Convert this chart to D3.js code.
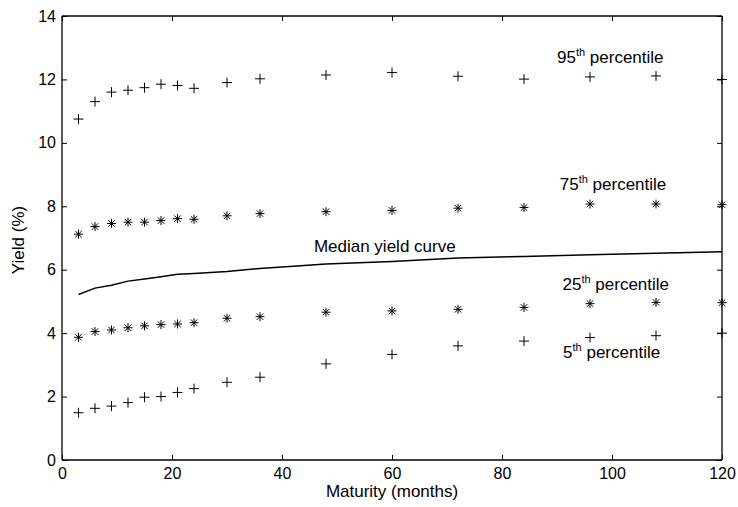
<!DOCTYPE html>
<html>
<head>
<meta charset="utf-8">
<script src="https://cdn.jsdelivr.net/npm/d3@7"></script>
<style>
  html, body { margin: 0; padding: 0; background: #fff; }
  svg { display: block; font-family: "Liberation Sans", Arial, Helvetica, sans-serif; }
</style>
</head>
<body>
<svg id="chart" width="738" height="507"></svg>
<script>
const maturities = [3, 6, 9, 12, 15, 18, 21, 24, 30, 36, 48, 60, 72, 84, 96, 108, 120];
const p95 = [10.75, 11.30, 11.60, 11.66, 11.74, 11.85, 11.81, 11.72, 11.90, 12.02, 12.14, 12.22, 12.10, 12.01, 12.08, 12.11, 12.00];
const p75 = [7.12, 7.36, 7.46, 7.50, 7.50, 7.55, 7.61, 7.59, 7.70, 7.77, 7.83, 7.87, 7.94, 7.96, 8.07, 8.07, 8.05];
const median = [5.22, 5.42, 5.51, 5.64, 5.71, 5.78, 5.86, 5.88, 5.94, 6.04, 6.18, 6.26, 6.37, 6.42, 6.47, 6.52, 6.57];
const p25 = [3.87, 4.05, 4.10, 4.17, 4.23, 4.27, 4.29, 4.33, 4.47, 4.52, 4.66, 4.70, 4.75, 4.81, 4.93, 4.97, 4.96];
const p5 = [1.49, 1.63, 1.70, 1.81, 1.98, 2.00, 2.13, 2.25, 2.45, 2.61, 3.03, 3.33, 3.60, 3.75, 3.86, 3.92, 4.00];
const xTicks = [0, 20, 40, 60, 80, 100, 120];
const yTicks = [0, 2, 4, 6, 8, 10, 12, 14];
const labels = [
  { num: "95", x: 90.0, y: 12.52 },
  { num: "75", x: 90.5, y: 8.51 },
  { num: "25", x: 91.0, y: 5.36 },
  { num: "5",  x: 91.1, y: 3.22 }
];
const medianLabel = { text: "Median yield curve", x: 45.8, y: 6.56 };

const svg = d3.select("#chart");
const m = { left: 62, right: 722, top: 16, bottom: 460 };
const x = d3.scaleLinear().domain([0, 120]).range([m.left, m.right]);
const y = d3.scaleLinear().domain([0, 14]).range([m.bottom, m.top]);

const tickLen = 5;
const tickFont = 16;
const labFont = 17;
const gx = svg.append("g").attr("transform", `translate(0,${m.bottom})`)
  .call(d3.axisBottom(x).tickValues(xTicks).tickSize(-tickLen).tickPadding(8).tickFormat(d3.format("d")));
const gxTop = svg.append("g").attr("transform", `translate(0,${m.top})`)
  .call(d3.axisTop(x).tickValues(xTicks).tickSize(-tickLen).tickFormat(""));
const gy = svg.append("g").attr("transform", `translate(${m.left},0)`)
  .call(d3.axisLeft(y).tickValues(yTicks).tickSize(-tickLen).tickPadding(6).tickFormat(d3.format("d")));
const gyR = svg.append("g").attr("transform", `translate(${m.right},0)`)
  .call(d3.axisRight(y).tickValues(yTicks).tickSize(-tickLen).tickFormat(""));
[gx, gxTop, gy, gyR].forEach(g => {
  g.selectAll(".domain").attr("stroke", "#000").attr("stroke-width", 1.3);
  g.selectAll(".tick line").attr("stroke", "#000").attr("stroke-width", 1);
  g.selectAll("text").attr("fill", "#000").attr("font-size", tickFont)
    .attr("font-family", '"Liberation Sans", Arial, sans-serif');
});
gx.selectAll(".domain").attr("d", `M${m.left},0H${m.right}`);
gxTop.selectAll(".domain").attr("d", `M${m.left},0H${m.right}`);
gy.selectAll(".domain").attr("d", `M0,${m.bottom}V${m.top}`);
gyR.selectAll(".domain").attr("d", `M0,${m.bottom}V${m.top}`);
gx.selectAll("text").attr("dy", "0.71em").attr("y", 8);

svg.append("text").attr("x", (m.left + m.right) / 2).attr("y", 497)
  .attr("text-anchor", "middle").attr("font-size", labFont).text("Maturity (months)");
svg.append("text").attr("transform", `translate(24,${(m.top + m.bottom) / 2 + 2}) rotate(-90)`)
  .attr("text-anchor", "middle").attr("font-size", labFont).text("Yield (%)");

svg.append("path")
  .datum(maturities.map((mm, i) => [mm, median[i]]))
  .attr("fill", "none").attr("stroke", "#000").attr("stroke-width", 1.5)
  .attr("d", d3.line().x(d => x(d[0])).y(d => y(d[1])));

const s = 5;
function plus(g, data) {
  g.selectAll(null).data(data).enter().append("path")
    .attr("d", d => {
      const cx = x(d[0]), cy = y(d[1]);
      return `M${cx - s},${cy}H${cx + s}M${cx},${cy - s}V${cy + s}`;
    })
    .attr("stroke", "#000").attr("stroke-width", 1).attr("fill", "none");
}
function star(g, data) {
  g.selectAll(null).data(data).enter().append("path")
    .attr("d", d => {
      const cx = x(d[0]), cy = y(d[1]);
      const r = s * 0.9, a = r * 0.72;
      return `M${cx - r},${cy}H${cx + r}M${cx},${cy - r}V${cy + r}` +
        `M${cx - a},${cy - a}L${cx + a},${cy + a}M${cx - a},${cy + a}L${cx + a},${cy - a}`;
    })
    .attr("stroke", "#000").attr("stroke-width", 1).attr("fill", "none");
}
const mg = svg.append("g");
plus(mg, maturities.map((mm, i) => [mm, p95[i]]));
star(mg, maturities.map((mm, i) => [mm, p75[i]]));
star(mg, maturities.map((mm, i) => [mm, p25[i]]));
plus(mg, maturities.map((mm, i) => [mm, p5[i]]));

labels.forEach(l => {
  const t = svg.append("text").attr("x", x(l.x)).attr("y", y(l.y)).attr("font-size", labFont);
  t.append("tspan").text(l.num);
  t.append("tspan").attr("font-size", 11).attr("dy", -7).text("th");
  t.append("tspan").attr("dy", 7).text(" percentile");
});
svg.append("text").attr("x", x(medianLabel.x)).attr("y", y(medianLabel.y))
  .attr("font-size", labFont).text(medianLabel.text);
</script>
</body>
</html>
